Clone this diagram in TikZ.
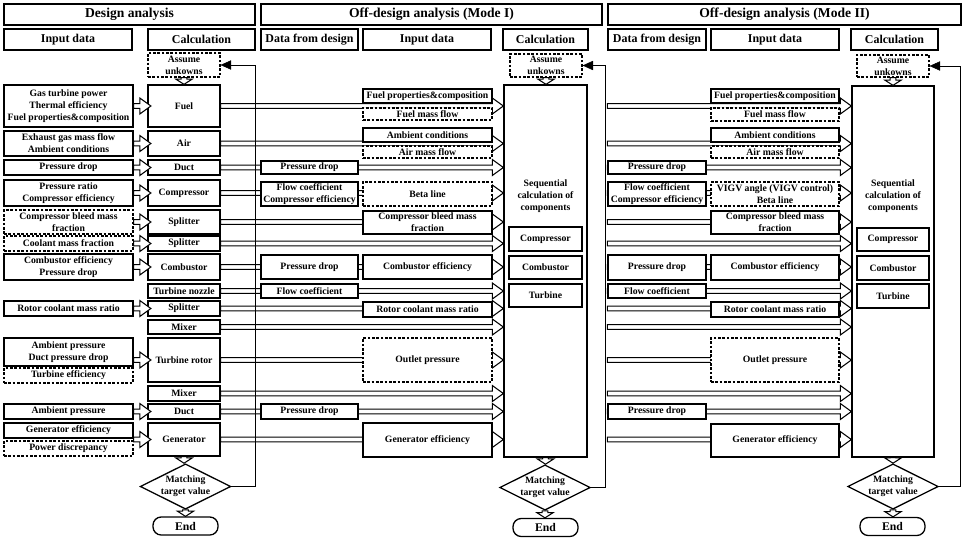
\documentclass[tikz,border=0pt]{standalone}
\usepackage{fontspec}
\setmainfont{Liberation Serif}
\usetikzlibrary{calc, arrows.meta, shapes.geometric}
\pgfdeclarelayer{bg}
\pgfsetlayers{bg,main}

\tikzset{
  box/.style={draw, fill=white, inner sep=0pt, align=center,
    font=\fontsize{8.3}{10.2}\selectfont\bfseries},
  dbox/.style={line width=1pt, dash pattern=on 2.2pt off 1.5pt},
  head/.style={font=\fontsize{11.6}{13}\selectfont\bfseries},
  subhead/.style={font=\fontsize{10.2}{12}\selectfont\bfseries},
  txt/.style={align=center, font=\fontsize{8.3}{10}\selectfont\bfseries},
  band/.style={draw, line width=0.9pt, fill=white},
  match/.style={draw, diamond, aspect=2, inner sep=0pt, fill=white, align=center,
    minimum width=26.4mm, minimum height=12.9mm,
    font=\fontsize{8.3}{10}\selectfont\bfseries},
  term/.style={draw, rounded corners=7pt, inner sep=0pt, fill=white,
    minimum width=19.5mm, minimum height=5.4mm,
    font=\fontsize{10}{12}\selectfont\bfseries},
  loopline/.style={draw, -{Triangle[length=9pt,width=8pt]}},
}

\newcommand{\bx}[7][]{%
  \node[box,#1,minimum width={(#5-#3)*0.3mm},minimum height={(#6-#4)*0.3mm}]
    (#2) at ({(#3+#5)/2},{(#4+#6)/2}) {#7};}
\newcommand{\hband}[2]{%
  \path[band] let \p1=#1, \p2=#2 in
    (\x1,\y1+2pt) -- (\x2-9.4pt,\y1+2pt) -- (\x2-9.4pt,\y1+6.8pt) -- (\x2,\y1)
    -- (\x2-9.4pt,\y1-6.8pt) -- (\x2-9.4pt,\y1-2pt) -- (\x1,\y1-2pt) -- cycle;}
\newcommand{\vband}[2]{%
  \path[band] let \p1=#1, \p2=#2 in
    (\x1-2.5pt,\y1) -- (\x1-2.5pt,\y2+4.5pt) -- (\x1-7pt,\y2+4.5pt) -- (\x1,\y2)
    -- (\x1+7pt,\y2+4.5pt) -- (\x1+2.5pt,\y2+4.5pt) -- (\x1+2.5pt,\y1) -- cycle;}

\begin{document}
\begin{tikzpicture}[x=0.3mm, y=-0.3mm, line width=1.1pt]
  \useasboundingbox (0,0) rectangle (965,539);

  % design analysis
  \bx[head]{hD}{4}{4}{255}{25}{Design analysis}
  \bx[subhead]{inD}{4}{29}{132}{50}{Input data}
  \bx[subhead]{calD}{148}{29}{255}{50}{Calculation}
  \bx[dbox]{asD}{148}{53}{220}{77}{Assume\\unkowns}
  \bx{fuel}{148}{85}{220}{127}{Fuel}
  \bx{air}{148}{131}{220}{156}{Air}
  \bx{duct}{148}{160}{220}{175}{Duct}
  \bx{comp}{148}{180}{220}{206}{Compressor}
  \bx{spl}{148}{210}{220}{234}{Splitter}
  \bx{splb}{148}{236}{220}{251}{Splitter}
  \bx{comb}{148}{254}{220}{280}{Combustor}
  \bx{noz}{148}{284}{220}{298}{Turbine nozzle}
  \bx{splc}{148}{301}{220}{316}{Splitter}
  \bx{mix}{148}{320}{220}{334}{Mixer}
  \bx{rot}{148}{338}{220}{382}{Turbine rotor}
  \bx{mixb}{148}{386}{220}{401}{Mixer}
  \bx{ductb}{148}{404}{220}{419}{Duct}
  \bx{gen}{148}{423}{220}{456}{Generator}
  \node[match] (matchD) at (185.5,486.5) {Matching\\target value};
  \node[term] (endD) at (185.5,526) {End};

  \bx{iA}{4}{85}{133}{127}{Gas turbine power\\Thermal efficiency\\Fuel properties\&composition}
  \bx{iB}{4}{131}{133}{156}{Exhaust gas mass flow\\Ambient conditions}
  \bx{iC}{4}{160}{133}{175}{Pressure drop}
  \bx{iD}{4}{180}{133}{206}{Pressure ratio\\Compressor efficiency}
  \bx[dbox]{iE}{4}{210}{133}{234}{Compressor bleed mass\\fraction}
  \bx[dbox]{iF}{4}{236}{133}{251}{Coolant mass fraction}
  \bx{iG}{4}{254}{133}{280}{Combustor efficiency\\Pressure drop}
  \bx{iH}{4}{301}{133}{316}{Rotor coolant mass ratio}
  \bx{iI}{4}{338}{133}{366}{Ambient pressure\\Duct pressure drop}
  \bx[dbox]{iJ}{4}{368}{133}{383}{Turbine efficiency}
  \bx{iK}{4}{404}{133}{419}{Ambient pressure}
  \bx{iL}{4}{423}{133}{438}{Generator efficiency}
  \bx[dbox]{iM}{4}{441}{133}{456}{Power discrepancy}

  % off-design, mode I
  \bx[head]{hA}{261}{4}{602}{25}{Off-design analysis (Mode I)}
  \bx[subhead]{dfA}{261}{29}{358}{50}{Data from design}
  \bx[subhead]{inA}{363}{29}{491}{50}{Input data}
  \bx[subhead]{calA}{503}{29}{588}{50}{Calculation}
  \bx[dbox]{asA}{510}{54}{582}{77}{Assume\\unkowns}
  \bx{bigA}{504}{85}{587}{457}{}
  \node[txt] (seqA) at (545.5,196) {Sequential\\calculation of\\components};
  \bx{cpA}{509}{227}{582}{251}{Compressor}
  \bx{cbA}{509}{256}{582}{279}{Combustor}
  \bx{tbA}{509}{284}{582}{307}{Turbine}
  \node[match] (matchA) at (545,487.5) {Matching\\target value};
  \node[term] (endA) at (545.5,527.5) {End};

  \bx{dA1}{261}{161}{358}{174}{Pressure drop}
  \bx{dA2}{261}{182}{358}{206}{Flow coefficient\\Compressor efficiency}
  \bx{dA3}{261}{255}{358}{279}{Pressure drop}
  \bx{dA4}{261}{284}{358}{298}{Flow coefficient}
  \bx{dA5}{261}{404}{358}{419}{Pressure drop}
  \bx{nA1}{363}{89}{492}{103}{Fuel properties\&composition}
  \bx[dbox]{nA2}{363}{108}{492}{120}{Fuel mass flow}
  \bx{nA3}{363}{128}{492}{142}{Ambient conditions}
  \bx[dbox]{nA4}{363}{146}{492}{158}{Air mass flow}
  \bx[dbox]{nA5}{363}{182}{492}{206}{Beta line}
  \bx{nA6}{363}{211}{492}{234}{Compressor bleed mass\\fraction}
  \bx{nA7}{363}{255}{492}{279}{Combustor efficiency}
  \bx{nA8}{363}{302}{492}{317}{Rotor coolant mass ratio}
  \bx[dbox]{nA9}{363}{338}{492}{382}{Outlet pressure}
  \bx{nA10}{363}{423}{492}{457}{Generator efficiency}

  % off-design, mode II
  \bx[head]{hB}{608}{4}{961}{25}{Off-design analysis (Mode II)}
  \bx[subhead]{dfB}{608}{29}{706}{50}{Data from design}
  \bx[subhead]{inB}{711}{29}{839}{50}{Input data}
  \bx[subhead]{calB}{851}{29}{938}{50}{Calculation}
  \bx[dbox]{asB}{857}{55}{929}{77}{Assume\\unkowns}
  \bx{bigB}{852}{86}{934}{457}{}
  \node[txt] (seqB) at (893,196) {Sequential\\calculation of\\components};
  \bx{cpB}{857}{228}{929}{251}{Compressor}
  \bx{cbB}{857}{256}{929}{280}{Combustor}
  \bx{tbB}{857}{284}{929}{308}{Turbine}
  \node[match] (matchB) at (893,486.5) {Matching\\target value};
  \node[term] (endB) at (892.5,526.5) {End};

  \bx{dB1}{608}{161}{706}{174}{Pressure drop}
  \bx{dB2}{608}{182}{706}{206}{Flow coefficient\\Compressor efficiency}
  \bx{dB3}{608}{255}{706}{280}{Pressure drop}
  \bx{dB4}{608}{284}{706}{298}{Flow coefficient}
  \bx{dB5}{608}{404}{706}{419}{Pressure drop}
  \bx{nB1}{711}{89}{839}{103}{Fuel properties\&composition}
  \bx[dbox]{nB2}{711}{108}{839}{121}{Fuel mass flow}
  \bx{nB3}{711}{128}{839}{142}{Ambient conditions}
  \bx[dbox]{nB4}{711}{146}{839}{158}{Air mass flow}
  \bx[dbox]{nB5}{711}{182}{839}{206}{VIGV angle (VIGV control)\\Beta line}
  \bx{nB6}{711}{211}{839}{234}{Compressor bleed mass\\fraction}
  \bx{nB7}{711}{255}{839}{280}{Combustor efficiency}
  \bx{nB8}{711}{302}{839}{317}{Rotor coolant mass ratio}
  \bx[dbox]{nB9}{711}{338}{839}{382}{Outlet pressure}
  \bx{nB10}{711}{424}{839}{457}{Generator efficiency}

  % flows
  \begin{pgfonlayer}{bg}
    \foreach \c in {fuel,air,duct,comp,spl,splb,comb,noz,splc,mix,rot,mixb,ductb,gen} {
      \hband{(\c.east)}{(bigA.west |- \c.east)}
      \hband{(dfB.west |- \c.east)}{(bigB.west |- \c.east)}
    }
  \end{pgfonlayer}

  \hband{(iA.east)}{([xshift=3pt]fuel.west)}
  \hband{(iB.east)}{([xshift=3pt]air.west)}
  \hband{(iC.east)}{([xshift=3pt]duct.west)}
  \hband{(iD.east)}{([xshift=3pt]comp.west)}
  \hband{(iE.east)}{([xshift=3pt]spl.west)}
  \hband{(iF.east)}{([xshift=3pt]splb.west)}
  \hband{(iG.east)}{([xshift=3pt]comb.west)}
  \hband{(iH.east)}{([xshift=3pt]splc.west)}
  \hband{(iI.east |- rot.west)}{([xshift=3pt]rot.west)}
  \hband{(iK.east)}{([xshift=3pt]ductb.west)}
  \hband{(iL.east |- gen.west)}{([xshift=3pt]gen.west)}

  \vband{(asD.south)}{(fuel.north)}
  \vband{(gen.south)}{(matchD.north)}
  \vband{(matchD.south)}{(endD.north)}
  \vband{(asA.south)}{(bigA.north)}
  \vband{(bigA.south)}{(matchA.north)}
  \vband{(matchA.south)}{(endA.north)}
  \vband{(asB.south)}{(bigB.north)}
  \vband{(bigB.south)}{(matchB.north)}
  \vband{(matchB.south)}{(endB.north)}

  \draw[loopline] (matchD.east) -- ++(24,0) |- (asD.east);
  \draw[loopline] (matchA.east) -- ++(14,0) |- (asA.east);
  \draw[loopline] (matchB.east) -- ++(21,0) |- (asB.east);
\end{tikzpicture}
\end{document}
